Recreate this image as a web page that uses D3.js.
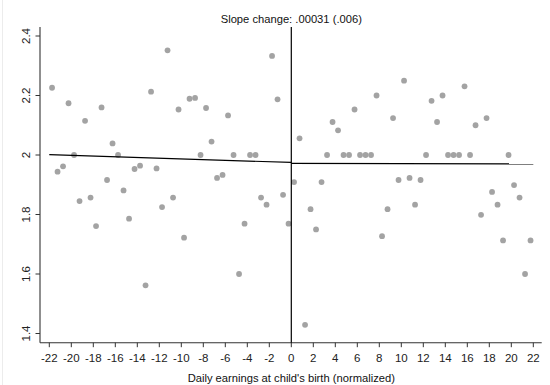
<!DOCTYPE html>
<html>
<head>
<meta charset="utf-8">
<script src="https://cdn.jsdelivr.net/npm/d3@7"></script>
<style>
  body { margin: 0; background: #fff; }
  svg { display: block; font-family: "Liberation Sans", Arial, sans-serif; }
</style>
</head>
<body>
<svg id="chart" width="550" height="385"></svg>
<script>
// bin centres run -21.75 .. 21.75 in half-unit steps
const leftY = [2.226, 1.944, 1.962, 2.174, 2.0, 1.845, 2.115, 1.857, 1.761, 2.160,
    1.916, 2.039, 2.0, 1.881, 1.786, 1.953, 1.964, 1.562, 2.213, 1.955,
    1.825, 2.352, 1.857, 2.153, 1.722, 2.189, 2.192, 2.0, 2.158, 2.045,
    1.923, 1.933, 2.133, 2.0, 1.600, 1.769, 2.0, 2.0, 1.857, 1.833,
    2.333, 2.187, 1.866, 1.769];
const rightY = [1.909, 2.056, 1.429, 1.818, 1.750, 1.909, 2.0, 2.111, 2.083, 2.0,
    2.0, 2.153, 2.0, 2.0, 2.0, 2.2, 1.727, 1.818, 2.124, 1.916,
    2.250, 1.923, 1.833, 1.916, 2.0, 2.182, 2.111, 2.2, 2.0, 2.0,
    2.0, 2.231, 2.0, 2.100, 1.799, 2.124, 1.876, 1.833, 1.713, 2.0,
    1.899, 1.857, 1.600, 1.713];
const fitLeft = [[-22, 2.001], [0, 1.975]];
const fitRight = [[0, 1.972], [22, 1.970]];
const xTicks = d3.range(-22, 23, 2);
const yTicks = [1.4, 1.6, 1.8, 2, 2.2, 2.4];
const title = "Slope change: .00031 (.006)";
const xTitle = "Daily earnings at child's birth (normalized)";

const points = leftY.map((v, i) => ({x: -21.75 + 0.5 * i, y: v}))
    .concat(rightY.map((v, i) => ({x: 0.25 + 0.5 * i, y: v})));

const svg = d3.select("#chart");
const plotL = 40, plotR = 541.7, plotT = 27, plotB = 342.7;

const x = d3.scaleLinear().domain([-22, 22]).range([49.3, 533.3]);
const y = d3.scaleLinear().domain([1.4, 2.4]).range([333.5, 36]);

// faint outer frame on the left edge
svg.append("line")
    .attr("x1", 2.5).attr("x2", 2.5).attr("y1", 0).attr("y2", 385)
    .attr("stroke", "#ececec");

// points
svg.append("g").selectAll("circle")
    .data(points)
    .enter().append("circle")
    .attr("cx", d => x(d.x))
    .attr("cy", d => y(d.y))
    .attr("r", 2.9)
    .attr("fill", "#a3a3a3");

// y axis
const yAxis = svg.append("g");
yAxis.append("line")
    .attr("x1", plotL).attr("x2", plotL).attr("y1", plotT).attr("y2", plotB)
    .attr("stroke", "#333").attr("stroke-width", 1.1);
yAxis.selectAll(".tk").data(yTicks).enter().append("line")
    .attr("x1", plotL - 4.5).attr("x2", plotL)
    .attr("y1", d => y(d)).attr("y2", d => y(d))
    .attr("stroke", "#333");
yAxis.selectAll("text").data(yTicks).enter().append("text")
    .attr("transform", d => `translate(29.5,${y(d)}) rotate(-90)`)
    .attr("text-anchor", "middle")
    .attr("font-size", 11.5)
    .attr("fill", "#222")
    .text(d => d3.format("")(d));

// x axis
const xAxis = svg.append("g");
xAxis.append("line")
    .attr("x1", plotL).attr("x2", plotR).attr("y1", plotB).attr("y2", plotB)
    .attr("stroke", "#333").attr("stroke-width", 1.1);
xAxis.selectAll(".tk").data(xTicks).enter().append("line")
    .attr("x1", d => x(d)).attr("x2", d => x(d))
    .attr("y1", plotB).attr("y2", plotB + 4.5)
    .attr("stroke", "#333");
xAxis.selectAll("text").data(xTicks).enter().append("text")
    .attr("x", d => x(d))
    .attr("y", 362)
    .attr("text-anchor", "middle")
    .attr("font-size", 11.5)
    .attr("fill", "#222")
    .text(d => d);

// cutoff line
svg.append("line")
    .attr("x1", x(0)).attr("x2", x(0)).attr("y1", plotT).attr("y2", plotB)
    .attr("stroke", "#000").attr("stroke-width", 1.2);

// fitted lines
const line = d3.line().x(d => x(d[0])).y(d => y(d[1]));
[fitLeft, fitRight].forEach(f => {
    svg.append("path")
        .attr("d", line(f))
        .attr("fill", "none")
        .attr("stroke", "#000")
        .attr("stroke-width", 1.2);
});

svg.append("text")
    .attr("x", x(0)).attr("y", 23)
    .attr("text-anchor", "middle")
    .attr("font-size", 11.2)
    .attr("fill", "#111")
    .text(title);

svg.append("text")
    .attr("x", x(0)).attr("y", 382)
    .attr("text-anchor", "middle")
    .attr("font-size", 11.2)
    .attr("fill", "#111")
    .text(xTitle);
</script>
</body>
</html>
